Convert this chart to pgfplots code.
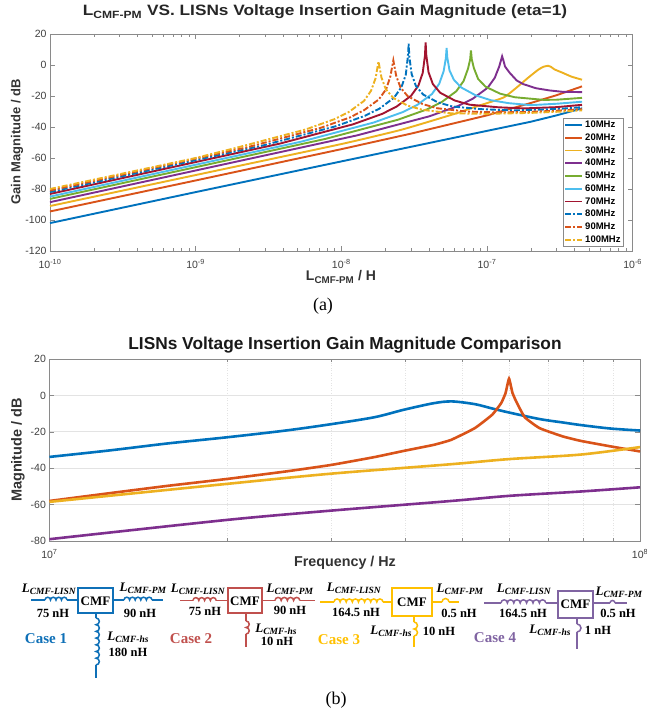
\documentclass[border=0pt]{standalone}
\usepackage{fontspec}
\setmainfont{Liberation Sans}
\newfontfamily\tm{Liberation Serif}
\usepackage{pgfplots}
\pgfplotsset{compat=1.18}
\definecolor{c1}{HTML}{0072BD}
\definecolor{c2}{HTML}{D95319}
\definecolor{c3}{HTML}{EDB120}
\definecolor{c4}{HTML}{7E2F8E}
\definecolor{c5}{HTML}{77AC30}
\definecolor{c6}{HTML}{4DBEEE}
\definecolor{c7}{HTML}{A2142F}
\definecolor{k1}{HTML}{0F70B7}
\definecolor{k2}{HTML}{C0504D}
\definecolor{k3}{HTML}{FFC000}
\definecolor{k4}{HTML}{8064A2}
\definecolor{axc}{HTML}{8A8A8A}
\definecolor{tkc}{HTML}{404040}
\newcommand\fs[1]{\fontsize{#1}{#1}\selectfont}
\tikzset{dd/.style={dash pattern=on 6pt off 2pt on 2pt off 2pt}}
\newcommand\hc[5]{\draw[#1,line width=1.5pt] (#2,#3) foreach \i in {1,...,#4} {arc (180:0:#5pt)};}
\newcommand\vc[5]{\draw[#1,line width=1.5pt] (#2,#3) foreach \i in {1,...,#4} {arc (90:-90:#5pt)};}
\newcommand\Lb[3]{\node[inner sep=0,text=black] at (#1,#2) {\tm\bfseries\fs{13}\textit{L}\fs{9.5}\raisebox{-2pt}{\textit{#3}}};}
\newcommand\Vl[3]{\node[inner sep=0,text=black] at (#1,#2) {\tm\bfseries\fs{12.5}#3};}
\newcommand\Cs[4]{\node[inner sep=0,text=#4] at (#1,#2) {\tm\bfseries\fs{15}#3};}
\begin{document}
\begin{tikzpicture}
\useasboundingbox (0,0) rectangle (646pt,713pt);
\begin{axis}[
  scale only axis,
  xmode=log,
  axis line style={axc,line width=0.9pt},
  tick style={axc,line width=0.5pt},
  major tick length=5pt, minor tick length=3pt,
  tick align=inside,
  tick label style={font=\fs{10.5},text=tkc},
  xticklabel style={yshift=-5pt},
  at={(50pt,462pt)},anchor=south west,width=582.7pt,height=217pt,
  xmin=1e-10,xmax=1e-6,ymin=-120,ymax=20,
  xtick={1e-10,1e-9,1e-8,1e-7,1e-6},
  xticklabels={10\textsuperscript{-10},10\textsuperscript{-9},10\textsuperscript{-8},10\textsuperscript{-7},10\textsuperscript{-6}},
  minor xtick={2e-10,3e-10,4e-10,5e-10,6e-10,7e-10,8e-10,9e-10,2e-9,3e-9,4e-9,5e-9,6e-9,7e-9,8e-9,9e-9,2e-8,3e-8,4e-8,5e-8,6e-8,7e-8,8e-8,9e-8,2e-7,3e-7,4e-7,5e-7,6e-7,7e-7,8e-7,9e-7},
  ytick={-120,-100,-80,-60,-40,-20,0,20},
  yticklabels={-120,-100,-80,-60,-40,-20,0,20},
  legend style={at={(0.985,0.018)},anchor=south east,draw=axc,fill=white,font=\fs{9.5}\bfseries,row sep=0.6pt,inner sep=1pt,line width=0.7pt},
  legend cell align=left,
]
\addplot[c1,line width=1.9pt] coordinates {(1e-10,-102)(1e-9,-82)(1e-8,-62.2)(1e-7,-42.5)(2e-7,-36.6)(3e-7,-32.5)(4.49e-7,-28)};
\addlegendentry{10MHz}
\addplot[c2,line width=1.9pt] coordinates {(1e-10,-94.5)(1e-9,-74.5)(1e-8,-54.3)(3e-8,-44.3)(1e-7,-32.5)(2e-7,-24.5)(3e-7,-19.5)(4.49e-7,-13.8)};
\addlegendentry{20MHz}
\addplot[c3,line width=1.9pt,smooth,tension=0.3] coordinates {(1e-10,-91)(1e-9,-71)(1e-8,-51)(2.6e-8,-41.7)(6e-8,-31.5)(8.3e-8,-27)(1e-7,-24.6)(1.31e-7,-20.8)(1.6e-7,-14.5)(1.9e-7,-8.5)(2.25e-7,-3)(2.45e-7,-1.1)(2.63e-7,-0.5)(2.75e-7,-1.2)(2.9e-7,-2.8)(3.3e-7,-5)(3.8e-7,-7.5)(4.49e-7,-9.5)};
\addlegendentry{30MHz}
\addplot[c4,line width=1.9pt] coordinates {(1e-10,-88.5)(1.27e-8,-45.5)(4.02e-8,-33.1)(6.35e-8,-26.4)(8e-8,-21.7)(1.01e-7,-14.7)(1.13e-7,-8.3)(1.213e-7,-1)(1.245e-7,2.8)(1.27e-7,5.6)(1.296e-7,2.9)(1.33e-7,-1)(1.43e-7,-5)(1.6e-7,-10)(1.77e-7,-12.3)(2.17e-7,-15)(2.68e-7,-16.4)(3.3e-7,-17.3)(4.49e-7,-17.5)};
\addlegendentry{40MHz}
\addplot[c5,line width=1.9pt] coordinates {(1e-10,-86.4)(7.76e-9,-47.7)(2.45e-8,-35.3)(3.88e-8,-28.6)(4.89e-8,-23.9)(6.16e-8,-16.9)(6.91e-8,-10.3)(7.41e-8,-2.3)(7.66e-8,3.5)(7.76e-8,9.4)(7.86e-8,3.7)(8.12e-8,-1.9)(8.69e-8,-9)(9.77e-8,-14)(1.23e-7,-18.5)(1.55e-7,-20.8)(2.45e-7,-22.5)(3e-7,-22.4)(4.49e-7,-21.2)};
\addlegendentry{50MHz}
\addplot[c6,line width=1.9pt] coordinates {(1e-10,-84.9)(5.28e-9,-49.5)(1.67e-8,-37.1)(2.64e-8,-30.4)(3.33e-8,-25.7)(4.19e-8,-18.7)(4.7e-8,-12.1)(5.04e-8,-4)(5.22e-8,4.5)(5.28e-8,11)(5.34e-8,4.8)(5.53e-8,-3.5)(5.92e-8,-9.5)(6.65e-8,-14.5)(8.37e-8,-19.6)(1.06e-7,-22.7)(1.4e-7,-24.6)(2e-7,-25.9)(3e-7,-25)(4.49e-7,-23.7)};
\addlegendentry{60MHz}
\addplot[c7,line width=1.9pt] coordinates {(1e-10,-83.2)(3.79e-9,-50.7)(1.2e-8,-38.3)(1.9e-8,-31.6)(2.39e-8,-26.9)(3.01e-8,-19.9)(3.38e-8,-13.3)(3.62e-8,-5.1)(3.75e-8,6)(3.79e-8,14.6)(3.83e-8,6.5)(3.97e-8,-4.7)(4.25e-8,-12.3)(4.77e-8,-17.9)(6e-8,-22.9)(7.58e-8,-25.6)(1.2e-7,-27.3)(1.8e-7,-28)(3e-7,-27.2)(4.49e-7,-25.7)};
\addlegendentry{70MHz}
\addplot[c1,line width=1.9pt,dd] coordinates {(1e-10,-82)(2.9e-9,-51.9)(9.17e-9,-39.5)(1.45e-8,-32.8)(1.83e-8,-28.1)(2.3e-8,-21.1)(2.58e-8,-14.5)(2.77e-8,-6.3)(2.86e-8,5.1)(2.9e-8,13.8)(2.93e-8,5.3)(3.04e-8,-5.9)(3.25e-8,-13.5)(3.65e-8,-19.1)(4.6e-8,-24.1)(5.8e-8,-26.8)(9.17e-8,-28.5)(1.5e-7,-29.3)(2.5e-7,-28.7)(3.5e-7,-28)(4.49e-7,-27.2)};
\addlegendentry{80MHz}
\addplot[c2,line width=1.9pt,dd] coordinates {(1e-10,-81)(2.275e-9,-53)(7.19e-9,-40.6)(1.14e-8,-33.9)(1.43e-8,-29.2)(1.81e-8,-22.2)(2.03e-8,-15.6)(2.17e-8,-7.4)(2.275e-8,3)(2.38e-8,-7)(2.55e-8,-14.6)(2.86e-8,-20.2)(3.61e-8,-25.2)(4.55e-8,-27.9)(7.19e-8,-30)(1.2e-7,-30.6)(2e-7,-30.2)(3e-7,-29.5)(4.49e-7,-28.5)};
\addlegendentry{90MHz}
\addplot[c3,line width=1.9pt,dd] coordinates {(1e-10,-80)(1e-9,-60)(1.8e-9,-54)(5.69e-9,-41.6)(9e-9,-34.9)(1.13e-8,-30.2)(1.43e-8,-23.2)(1.6e-8,-16.6)(1.72e-8,-8.4)(1.8e-8,2.3)(1.885e-8,-8)(2.02e-8,-15.6)(2.27e-8,-21.2)(2.85e-8,-26.2)(3.6e-8,-28.9)(5.69e-8,-31.2)(1e-7,-31.5)(2e-7,-30.9)(3e-7,-30.2)(4.49e-7,-29.3)};
\addlegendentry{100MHz}
\end{axis}
\begin{axis}[
  scale only axis,
  xmode=log,
  axis line style={axc,line width=0.9pt},
  tick style={axc,line width=0.5pt},
  major tick length=5pt, minor tick length=3pt,
  tick align=inside,
  tick label style={font=\fs{10.5},text=tkc},
  xticklabel style={yshift=-5pt},
  at={(49.4pt,172pt)},anchor=south west,width=590.6pt,height=182pt,
  xmin=1e7,xmax=1e8,ymin=-80,ymax=20,
  xtick={1e7,1e8},xticklabels={10\textsuperscript{7},10\textsuperscript{8}},
  minor xtick={2e7,3e7,4e7,5e7,6e7,7e7,8e7,9e7},
  ytick={-80,-60,-40,-20,0,20},yticklabels={-80,-60,-40,-20,0,20},
  grid=both,
  major grid style={gray!22,line width=0.7pt},
  minor grid style={gray!22,line width=0.5pt,dotted},
]
\addplot[c1,line width=2.6pt,smooth,tension=0.5] coordinates {(1e7,-33.8)(1.259e7,-30.3)(1.585e7,-26.4)(2e7,-23)(2.512e7,-19.3)(3e7,-15.8)(3.55e7,-12)(3.98e7,-7.9)(4.47e7,-4.3)(4.8e7,-3.3)(5.25e7,-4.8)(5.62e7,-7.2)(6e7,-9.4)(6.76e7,-13)(7.41e7,-14.9)(7.94e7,-16.3)(8.91e7,-18.2)(1e8,-19.3)};
\addplot[c2,line width=2.6pt,smooth,tension=0.25] coordinates {(1e7,-58)(1.259e7,-53.8)(1.585e7,-49.7)(2e7,-45.9)(2.512e7,-41.8)(3e7,-38.2)(3.55e7,-33.9)(3.98e7,-30.5)(4.47e7,-27.2)(4.79e7,-24.4)(5.25e7,-18)(5.62e7,-10.6)(5.82e7,-4.2)(5.92e7,1.3)(6e7,9.2)(6.08e7,1.5)(6.17e7,-3.3)(6.38e7,-12)(6.76e7,-18)(7.41e7,-22.6)(7.94e7,-25)(8.91e7,-28)(1e8,-30.8)};
\addplot[c3,line width=2.6pt,smooth,tension=0.5] coordinates {(1e7,-58.5)(2e7,-48.6)(3e7,-43)(4.79e7,-37.8)(6e7,-35)(7.94e7,-32.5)(1e8,-28.4)};
\addplot[c4,line width=2.6pt,smooth,tension=0.5] coordinates {(1e7,-79)(2e7,-68.4)(3e7,-63.3)(4.79e7,-58)(6e7,-55.2)(7.94e7,-52.8)(1e8,-50.5)};
\end{axis}
\begin{scope}[x=1pt,y=-1pt,yshift=713pt]
\node[font=\fs{15}\bfseries,text=black!85,xscale=1.15] at (325,12) {L\textsubscript{CMF-PM} VS. LISNs Voltage Insertion Gain Magnitude (eta=1)};
\node[font=\fs{13}\bfseries,text=black!80,rotate=90] at (17,142) {Gain Magnitude / dB};
\node[font=\fs{14}\bfseries,text=black!80] at (341,277) {L\textsubscript{CMF-PM} / H};
\node[font=\tm\fs{18}] at (323,306) {(a)};
\node[font=\fs{17.3}\bfseries,text=black!90] at (345,345) {LISNs Voltage Insertion Gain Magnitude Comparison};
\node[font=\fs{14.5}\bfseries,text=black!80,rotate=90] at (18,450) {Magnitude / dB};
\node[font=\fs{14.3}\bfseries,text=black!80] at (345,563) {Frequency / Hz};
\node[font=\tm\fs{18}] at (336,700) {(b)};
% Case 1
\draw[k1,line width=1.5pt] (31,600)--(45,600) (67,600)--(78,600) (113,600)--(124,600) (152,600)--(163,600) (96,613)--(96,618) (96,665)--(96,678);
\hc{k1}{45}{600}{4}{2.75}
\hc{k1}{124}{600}{5}{2.8}
\vc{k1}{96}{618}{7}{3.35}
\draw[k1,line width=1.6pt,fill=white] (78,588) rectangle (113,613);
\node[inner sep=0] at (95.5,601) {\tm\bfseries\fs{13}CMF};
\Lb{49}{589}{CMF-LISN}\Vl{53}{613}{75 nH}\Lb{143}{588}{CMF-PM}\Vl{140}{613}{90 nH}\Lb{128}{637}{CMF-hs}\Vl{128}{652}{180 nH}\Cs{46}{639}{Case 1}{k1}
% Case 2
\draw[k2,line width=1.5pt] (180,600.5)--(193,600.5) (216,600.5)--(228,600.5) (262,600.5)--(275,600.5) (300,600.5)--(315,600.5) (246,613)--(246,621) (246,634)--(246,647);
\hc{k2}{193}{600.5}{4}{2.9}
\hc{k2}{275}{600.5}{4}{3.1}
\vc{k2}{246}{621}{2}{3.25}
\draw[k2,line width=1.6pt,fill=white] (228,588) rectangle (262,613);
\node[inner sep=0] at (245,601) {\tm\bfseries\fs{13}CMF};
\Lb{198}{589}{CMF-LISN}\Vl{205}{611}{75 nH}\Lb{290}{589}{CMF-PM}\Vl{290}{610}{90 nH}\Lb{276}{629}{CMF-hs}\Vl{277}{641}{10 nH}\Cs{191}{639}{Case 2}{k2}
% Case 3
\draw[k3,line width=1.5pt] (320,602)--(334,602) (383,602)--(392,602) (432,602)--(442,602) (449,602)--(459,602) (414,616)--(414,622) (414,636)--(414,647);
\hc{k3}{334}{602}{8}{3.06}
\hc{k3}{442}{602}{1}{3.5}
\vc{k3}{414}{622}{2}{3.5}
\draw[k3,line width=1.6pt,fill=white] (392,588) rectangle (432,616);
\node[inner sep=0] at (412,602) {\tm\bfseries\fs{13}CMF};
\Lb{354}{588}{CMF-LISN}\Vl{356}{612}{164.5 nH}\Lb{460}{589}{CMF-PM}\Vl{459}{613}{0.5 nH}\Lb{391}{631}{CMF-hs}\Vl{439}{631}{10 nH}\Cs{339}{640}{Case 3}{k3}
% Case 4
\draw[k4,line width=1.5pt] (484,603)--(501,603) (546,603)--(558,603) (593,603)--(610,603) (615,603)--(627,603) (577,618)--(577,624) (577,632)--(577,649);
\hc{k4}{501}{603}{7}{3.2}
\hc{k4}{610}{603}{1}{2.5}
\vc{k4}{577}{624}{1}{4}
\draw[k4,line width=1.6pt,fill=white] (558,591) rectangle (593,618);
\node[inner sep=0] at (575.5,604.5) {\tm\bfseries\fs{13}CMF};
\Lb{524}{589}{CMF-LISN}\Vl{523}{613}{164.5 nH}\Lb{619}{592}{CMF-PM}\Vl{618}{613}{0.5 nH}\Lb{550}{630}{CMF-hs}\Vl{598}{630}{1 nH}\Cs{495}{638}{Case 4}{k4}
\end{scope}
\end{tikzpicture}
\end{document}
